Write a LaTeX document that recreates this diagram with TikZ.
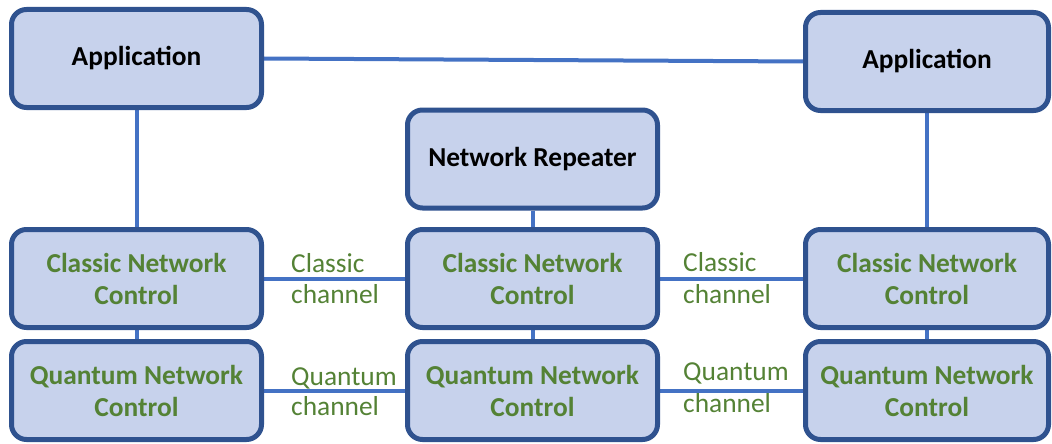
\documentclass[tikz,border=0pt]{standalone}
\usepackage{fontspec}
\setmainfont{Carlito}
\usetikzlibrary{backgrounds}
\definecolor{bordc}{RGB}{47,82,143}
\definecolor{fillc}{RGB}{199,210,236}
\definecolor{linec}{RGB}{68,114,196}
\definecolor{greenc}{RGB}{84,130,53}
\tikzset{
  box/.style={draw=bordc, line width=5pt, fill=fillc, rounded corners=15pt,
    minimum height=98pt, inner sep=0pt, align=center,
    font=\fontsize{27.4}{32}\selectfont\bfseries},
  wbox/.style={box, minimum width=250pt},
  rbox/.style={box, minimum width=243pt},
  gtext/.style={text=greenc},
  ktext/.style={text=black},
  conn/.style={draw=linec, line width=4pt},
  lbl/.style={text=greenc, inner sep=0pt, anchor=base west,
    font=\fontsize{27.4}{32}\selectfont}
}
\begin{document}
\begin{tikzpicture}[x=1pt,y=-1pt]
\useasboundingbox (0,0) rectangle (1052,444);
% nodes
\node[wbox,ktext] (appL) at (136.5,58.5) {Application};
\node[rbox,ktext] (appR) at (927,61.5) {Application};
\node[wbox,ktext] (rep) at (532.5,159) {Network Repeater};
\node[wbox,gtext] (cncL) at (136.5,278.5) {Classic Network\\Control};
\node[wbox,gtext] (cncM) at (532.5,278.5) {Classic Network\\Control};
\node[rbox,gtext] (cncR) at (927,278.5) {Classic Network\\Control};
\node[wbox,gtext] (qncL) at (136.5,390.5) {Quantum Network\\Control};
\node[wbox,gtext] (qncM) at (532.5,390.5) {Quantum Network\\Control};
\node[rbox,gtext] (qncR) at (927,390.5) {Quantum Network\\Control};
% labels
\node[lbl] (clA) at (291,272) {Classic};
\node[lbl] (clB) at (291,303) {channel};
\node[lbl] (crA) at (683,271) {Classic};
\node[lbl] (crB) at (683,303) {channel};
\node[lbl] (qlA) at (291,385) {Quantum};
\node[lbl] (qlB) at (291,415) {channel};
\node[lbl] (qrA) at (683,380) {Quantum};
\node[lbl] (qrB) at (683,412) {channel};
% connectors
\begin{scope}[on background layer]
\draw[conn] (appL.east) -- (appR.west);
\draw[conn] (appL.south) -- (cncL.north);
\draw[conn] (appR.south) -- (cncR.north);
\draw[conn] (rep.south) -- (cncM.north);
\draw[conn] (cncL.south) -- (qncL.north);
\draw[conn] (cncM.south) -- (qncM.north);
\draw[conn] (cncR.south) -- (qncR.north);
\draw[conn] (cncL.east) -- (cncM.west);
\draw[conn] (cncM.east) -- (cncR.west);
\draw[conn] (qncL.east) -- (qncM.west);
\draw[conn] (qncM.east) -- (qncR.west);
\end{scope}
\end{tikzpicture}
\end{document}
